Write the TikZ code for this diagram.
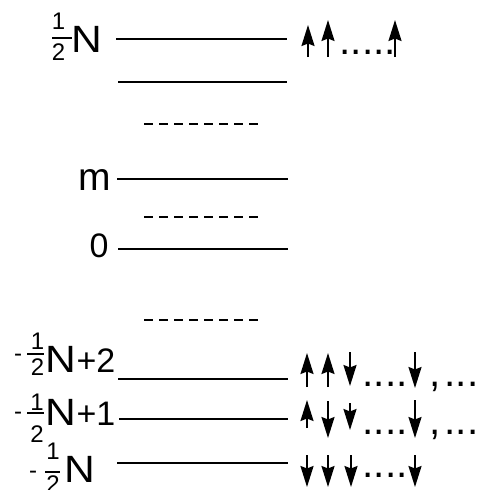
\documentclass[tikz,border=0pt]{standalone}
\usepackage{fontspec}
\setmainfont{Liberation Sans}
\usetikzlibrary{arrows.meta}

\tikzset{
  level/.style={line width=2.2pt},
  gapline/.style={line width=2.2pt, dash pattern=on 9pt off 6pt},
  spin/.style={line width=2pt, -{Stealth[length=21pt,width=13pt,inset=2.5pt]}},
  fracbar/.style={line width=1.6pt},
  bigN/.style={inner sep=0pt, anchor=base west, font=\fontsize{38}{42}\selectfont},
  big/.style={inner sep=0pt, anchor=base west, font=\fontsize{39}{42}\selectfont},
  mid/.style={inner sep=0pt, anchor=base west, font=\fontsize{34}{38}\selectfont},
  small/.style={inner sep=0pt, anchor=base, font=\fontsize{24}{26}\selectfont},
  smallw/.style={inner sep=0pt, anchor=base west, font=\fontsize{24}{26}\selectfont},
  dotrow/.style={inner sep=0pt, anchor=base west, font=\fontsize{40.5}{44}\selectfont},
}

% spin arrows: name, x, top y, bottom y
\newcommand\spinup[4]{%
  \coordinate (#1-s) at (#2,#4); \coordinate (#1-e) at (#2,#3);
  \draw[spin] (#1-s) -- (#1-e);}
\newcommand\spindown[4]{%
  \coordinate (#1-s) at (#2,#3); \coordinate (#1-e) at (#2,#4);
  \draw[spin] (#1-s) -- (#1-e);}
% energy level: name, left x, right x, y
\newcommand\levelline[4]{%
  \coordinate (#1-l) at (#2,#4); \coordinate (#1-r) at (#3,#4);
  \draw[level] (#1-l) -- (#1-r);}
\newcommand\gapmark[2]{%
  \coordinate (#1-l) at (144,#2); \coordinate (#1-r) at (260,#2);
  \draw[gapline] (#1-l) -- (#1-r);}
% one half: name, bar left, bar right, bar y, x of digits, base of 1, base of 2
\newcommand\halfof[7]{%
  \coordinate (#1-bl) at (#2,#4); \coordinate (#1-br) at (#3,#4);
  \draw[fracbar] (#1-bl) -- (#1-br);
  \node[small] (#1-num) at (#5,#6) {1};
  \node[small] (#1-den) at (#5,#7) {2};}
\newcommand\wideN{\scalebox{1.12}[1]{N}}

\begin{document}
\begin{tikzpicture}[x=1pt, y=-1pt]
\useasboundingbox (0,0) rectangle (477,490);

% levels
\levelline{top}{116}{287}{39}
\levelline{next}{118}{287}{82}
\gapmark{g1}{124}
\levelline{lm}{117}{288}{179}
\gapmark{g2}{217}
\levelline{lzero}{118}{288}{249}
\gapmark{g3}{320}
\levelline{ltwo}{118}{288}{379}
\levelline{lone}{119}{288}{419}
\levelline{lbot}{117}{288}{463}

% labels
\halfof{ftop}{52}{72}{38}{58.5}{29}{60}
\node[bigN] (ntop) at (70.8,52) {\wideN};
\node[big] (nm) at (78,190) {m};
\node[mid] (nzero) at (89.5,257) {0};

\node[smallw] (mtwo) at (14,361) {-};
\halfof{ftwo}{27}{44}{354}{37.5}{349}{375}
\node[bigN] (ntwo) at (44.8,372) {\wideN};
\node[mid] (ptwo) at (76.4,372) {+2};

\node[smallw] (mone) at (14,419.5) {-};
\halfof{fone}{27}{44}{413}{37}{410}{442}
\node[bigN] (none) at (44.8,425) {\wideN};
\node[mid] (pone) at (76.4,425) {+1};

\node[smallw] (mbot) at (29,478.5) {-};
\halfof{fbot}{45}{60}{472}{53}{459}{492}
\node[bigN] (nbot) at (63.8,482) {\wideN};

% spins, top level
\spinup{a1}{308}{25}{57}
\spinup{a2}{328}{20}{57}
\node[dotrow] (d0) at (339.3,54) {.....};
\spinup{a3}{395}{20}{57}

% spins, level -N/2+2
\spinup{b1}{307}{353}{387}
\spinup{b2}{328}{353}{387}
\spindown{b3}{350}{352}{386}
\node[dotrow] (d1) at (362.3,386) {....};
\spindown{b4}{415}{352}{388}
\node[dotrow] (c1) at (429.7,386) {,};
\node[dotrow] (e1) at (444.5,386) {...};

% spins, level -N/2+1
\spinup{c1u}{307}{400}{428}
\spindown{c2}{328}{401}{438}
\spindown{c3}{350}{403}{430}
\node[dotrow] (d2) at (362.3,434) {....};
\spindown{c4}{415}{400}{438}
\node[dotrow] (c2c) at (429.7,434) {,};
\node[dotrow] (e2) at (444.5,434) {...};

% spins, level -N/2
\spindown{d1a}{307}{455}{487}
\spindown{d2a}{328}{455}{487}
\spindown{d3a}{351}{455}{487}
\node[dotrow] (d3) at (362.3,477) {....};
\spindown{d4a}{415}{455}{487}
\end{tikzpicture}
\end{document}
